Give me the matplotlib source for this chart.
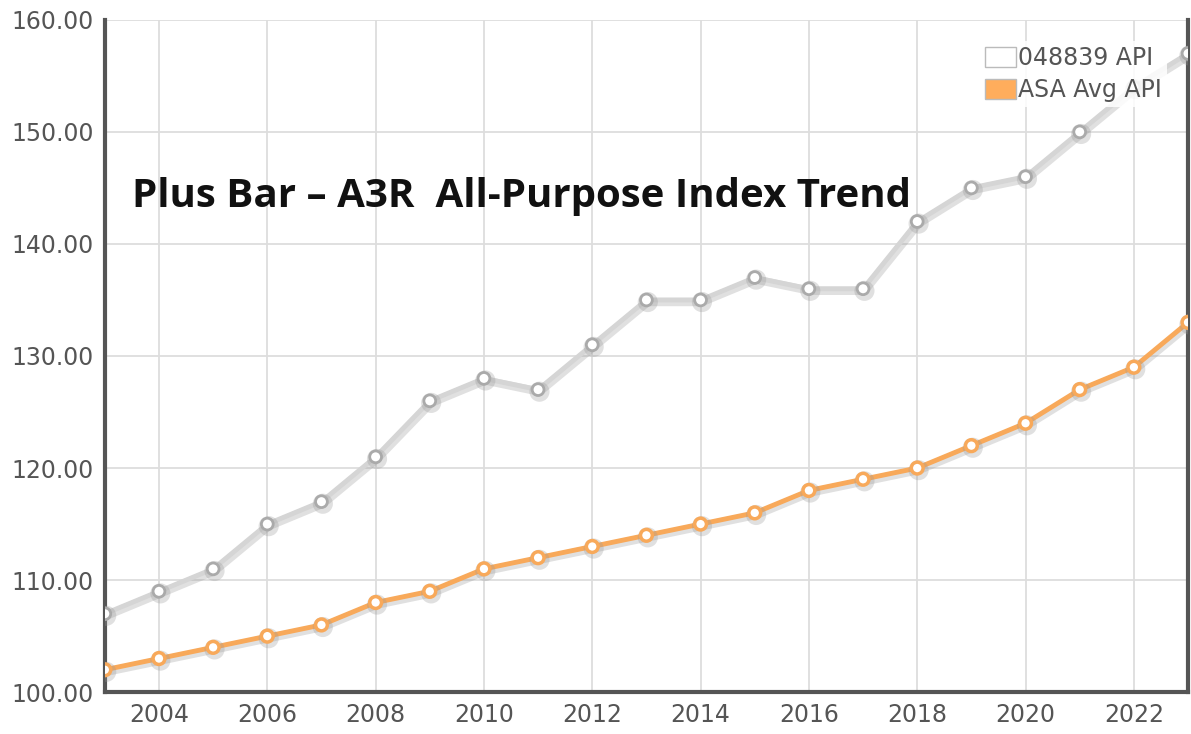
import matplotlib.pyplot as plt
import matplotlib.patheffects as pe
from matplotlib.patches import Patch

years = list(range(2003, 2024))
api_048839 = [107, 109, 111, 115, 117, 121, 126, 128, 127, 131, 135,
              135, 137, 136, 136, 142, 145, 146, 150, 154, 157]
asa_avg_api = [102, 103, 104, 105, 106, 108, 109, 111, 112, 113, 114,
               115, 116, 118, 119, 120, 122, 124, 127, 129, 133]
x_ticks = list(range(2004, 2024, 2))
y_ticks = list(range(100, 161, 10))

fig = plt.figure(figsize=(11.91, 7.34), dpi=100)
ax = fig.add_axes([0.088, 0.057, 0.9095, 0.916])

shadow = [pe.SimpleLineShadow(offset=(1, -1.5), shadow_color='#999999', alpha=0.3, linewidth=6), pe.Normal()]

ax.plot(years, api_048839, color='#d5d5d5', lw=3.5, marker='o', ms=8.5,
        mfc='white', mec='#aaaaaa', mew=2, path_effects=shadow, zorder=3)
ax.plot(years, asa_avg_api, color='#f8a95a', lw=3.5, marker='o', ms=8.5,
        mfc='white', mec='#f8a95a', mew=2.5, path_effects=shadow, zorder=4)

ax.set_xlim(2003, 2023)
ax.set_ylim(100, 160)
ax.set_xticks(x_ticks)
ax.set_yticks(y_ticks)
ax.set_yticklabels([f"{v:.2f}" for v in y_ticks])
ax.tick_params(length=0, labelsize=17, labelcolor='#555555', pad=8)
ax.grid(True, color='#dddddd', lw=1.3)
ax.set_axisbelow(True)

for side in ['left', 'bottom', 'right']:
    ax.spines[side].set_color('#555555')
    ax.spines[side].set_linewidth(3)
ax.spines['top'].set_visible(False)

ax.text(2003.5, 144.2, "Plus Bar \u2013 A3R  All-Purpose Index Trend",
        fontsize=29, fontweight='bold', family='Open Sans', color='#111111',
        va='center', ha='left', zorder=6)

handles = [Patch(facecolor='white', edgecolor='#bbbbbb', label='048839 API'),
           Patch(facecolor='#ffad5c', edgecolor='#bbbbbb', label='ASA Avg API')]
leg = ax.legend(handles=handles, loc='upper right', bbox_to_anchor=(0.985, 0.975),
                frameon=True, fontsize=17, handlelength=1.3, handleheight=0.9,
                handletextpad=0.1, labelspacing=0.35, borderaxespad=0.2,
                borderpad=0.2, facecolor='white', edgecolor='none', framealpha=0.85)
leg.set_zorder(7)
for t in leg.get_texts():
    t.set_color('#555555')

fig.savefig('out.png', dpi=100)
